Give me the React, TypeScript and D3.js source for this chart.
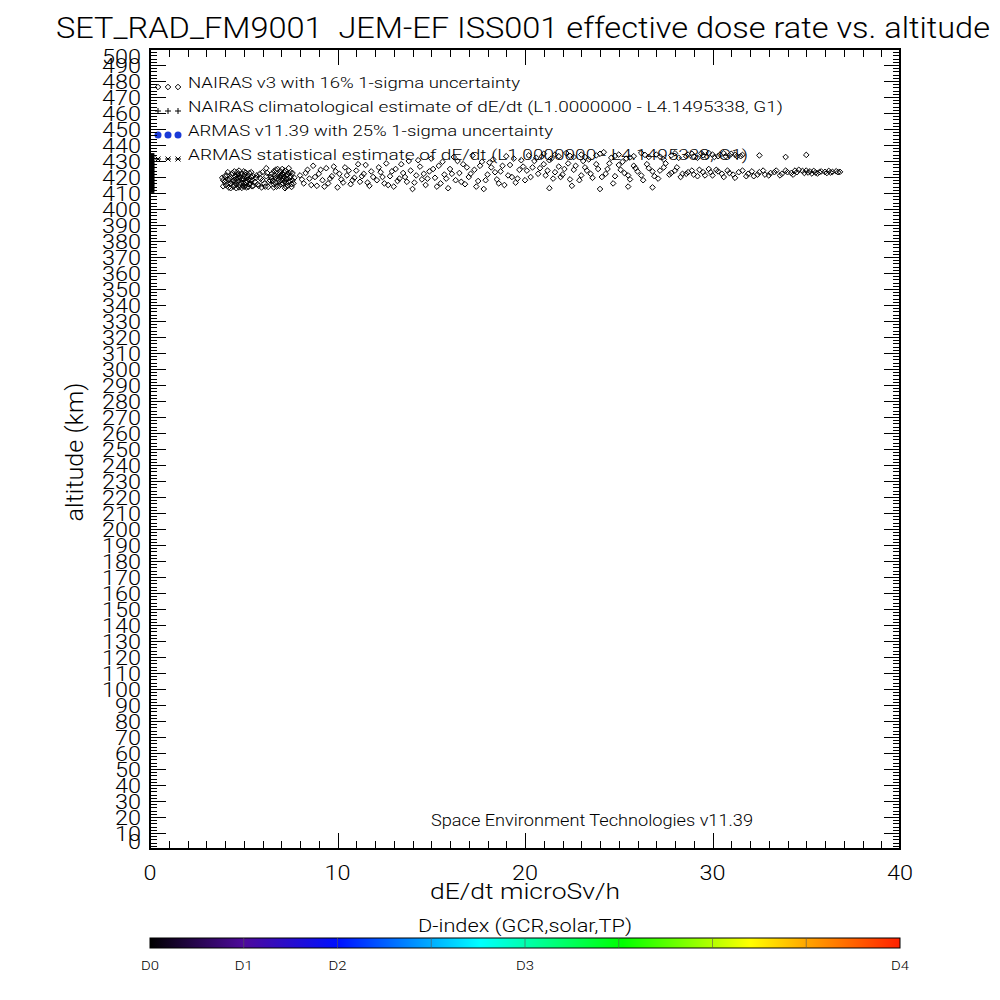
import React from "react";
import * as d3 from "d3";

const titleText = "SET_RAD_FM9001  JEM-EF ISS001 effective dose rate vs. altitude";
const xLabel = "dE/dt microSv/h";
const yLabel = "altitude (km)";
const footerText = "Space Environment Technologies v11.39";
const colorbarTitle = "D-index (GCR,solar,TP)";

const xDomain: [number, number] = [0, 40];
const yDomain: [number, number] = [0, 500];
const xTickValues = [0, 10, 20, 30, 40];

const legendLabels = [
  "NAIRAS v3 with 16% 1-sigma uncertainty",
  "NAIRAS climatological estimate of dE/dt (L1.0000000 - L4.1495338, G1)",
  "ARMAS v11.39 with 25% 1-sigma uncertainty",
  "ARMAS statistical estimate of dE/dt (L1.0000000 - L4.1495338, G1)",
];
const legendSymbols = ["diamond", "plus", "dot", "asterisk"];
const legendWidths = [332, 595, 365, 560];

const dLabels = ["D0", "D1", "D2", "D3", "D4"];
const dLabelPos = [0, 0.125, 0.25, 0.5, 1];
const colorStopPos = [0, 0.125, 0.25, 0.44, 0.63, 0.8, 0.88, 1];
const colorStopCol = ["#000000", "#4e0a9c", "#0010ff", "#00ffff", "#00ff00", "#ffff00", "#ffa000", "#ff2000"];

// dose (microSv/h), altitude (km)
const nairasPoints: [number, number][] = [
  [3.85,419.5],[3.9,414.2],[4.0,417],[4.1,421],[4.2,413.5],[4.25,419],[4.3,416],[4.4,422.5],[4.45,414],[4.5,418],
  [4.55,420.5],[4.6,415.5],[4.65,423],[4.7,417.5],[4.75,413.5],[4.8,420],[4.85,416.5],[4.9,422],[4.95,414.5],[5.0,418.5],
  [5.05,421.5],[5.1,415],[5.15,419.5],[5.2,417],[5.25,413.8],[5.3,422.5],[5.35,416],[5.4,420],[5.45,418],[5.5,414.5],
  [4.6,419],[4.8,415],[5.0,423.5],[4.4,417.5],[5.2,420.8],[4.7,421.8],[5.1,416.8],
  [3.9,418],[4.0,420.5],[4.05,415],[4.15,423],[4.2,418.2],[4.3,413],[4.35,421.5],[4.5,415],[4.5,423.5],[4.6,413],
  [4.7,419.5],[4.75,424],[4.85,418.5],[4.9,413.2],[5.0,416],[5.0,420.8],[5.1,422.8],[5.15,413.5],[5.25,418.5],[5.3,415.5],
  [5.4,423],[5.45,414.2],[5.5,420.5],[4.3,419.8],[4.55,417],[4.95,419.2],[5.35,417.8],[4.15,416],[4.65,421],[5.05,414],
  [5.6,417],[5.7,421],[5.8,414.5],[5.9,419],[6.0,423],[6.1,416],[6.2,420.5],[6.3,413.8],[6.4,418],[6.5,422],
  [6.6,415.5],[6.7,419.5],[6.8,425],[6.9,417],
  [5.65,419.5],[5.75,415.5],[5.85,422],[6.0,418],[6.15,414],[6.25,422.5],[6.35,417],[6.45,420],[5.95,413.5],[6.2,425.5],
  [6.5,419],[6.6,423.5],[6.7,416.5],[6.8,420.5],[6.9,414.5],[7.0,418],[7.05,422],[7.1,416],[7.15,420],[7.2,424],
  [7.25,414],[7.3,418.5],[7.35,421.5],[7.4,416.8],[7.45,419.8],[7.5,423],[7.55,415.5],[7.6,418],[7.0,420.8],[7.2,417.5],
  [7.4,422.5],[6.9,421.8],
  [6.55,417.5],[6.65,421],[6.75,414],[6.85,418.5],[6.95,423.5],[7.0,415.5],[7.1,419],[7.15,423],[7.25,416.5],[7.3,421],
  [7.35,414.5],[7.45,417.8],[7.5,420.5],[7.6,422.5],[7.65,416],[7.7,419.5],[6.7,424.5],[7.05,425],[7.4,425.5],[6.6,413.5],
  [7.2,413],[7.55,413.8],[6.95,420],[7.25,418.8],[7.1,421.5],
  [8.0,421],[8.2,416],[8.4,424.5],[8.5,419],[8.7,427],[8.9,414.5],[9.0,422],[9.2,418],[9.4,425.5],[9.5,416],
  [9.7,420.5],[9.9,423.5],[10.0,413.5],[10.2,418.5],[10.4,426],[10.5,421],[10.7,415.5],[10.9,419.5],[11.0,424],[11.2,417],
  [11.4,422],[11.5,427.5],[11.7,414.5],[11.9,420],
  [8.1,418.5],[8.3,422.5],[8.6,415],[8.8,420],[9.1,424.5],[9.3,414],[9.6,419],[9.8,426.5],[10.1,422],[10.3,416.5],
  [10.6,424],[10.8,418],[11.1,428],[11.3,420.5],[11.6,416.5],[11.8,423.5],
  [12.1,418],[12.3,423],[12.5,416],[12.6,428.5],[12.8,420.5],[13.0,414],[13.1,425],[13.3,419],[13.5,422.5],[13.7,417],
  [13.8,430],[14.0,412.5],[14.2,421],[14.4,426.5],[14.5,418.5],[14.7,415],[14.9,423.5],[15.0,431.5],[15.2,419.5],[15.4,427],
  [15.5,416],[15.7,421.5],[15.9,413],[16.0,425],[16.2,432.5],[16.3,418],[16.5,422.5],[16.7,428],[16.8,415.5],[17.0,420],
  [17.2,433.5],[17.3,424.5],[17.5,417.5],[17.7,429.5],[17.8,412.5],[18.0,421.5],[18.2,426],[18.3,431],[18.5,418.5],[18.7,423.5],
  [18.9,415],[19.0,433],[19.2,427.5],[19.3,420],[19.5,416.5],[19.7,424.5],[19.8,430.5],[20.0,418],
  [12.2,426],[12.4,420],[12.7,415],[12.9,423.5],[13.2,417.5],[13.4,428],[13.6,420],[13.9,424],[14.1,416.5],[14.3,430.5],
  [14.6,422],[14.8,419],[15.1,425],[15.3,414],[15.6,429.5],[15.8,419],[16.1,422],[16.4,430],[16.6,417],[16.9,426],
  [17.1,422],[17.4,414],[17.6,427],[17.9,418],[18.1,429],[18.4,423],[18.6,416],[18.8,427],[19.1,421],[19.4,431.5],
  [19.6,419],[19.9,426.5],
  [20.2,433.5],[20.6,432],[21.0,434.5],[21.4,431.5],[21.8,433],[22.2,435],[22.6,432.5],[23.0,434],[23.4,431],[23.8,433.5],
  [24.2,435.5],[24.6,432],[25.0,434],[25.4,431.5],[25.8,433],[26.2,435],[26.6,432.5],[27.0,434],[27.4,431],[27.8,433.5],[28.2,432],
  [20.9,432.8],[21.6,434],[22.4,433.2],[23.2,432.5],[24.0,434.5],[24.8,433.2],[25.6,432.2],[26.4,433.8],[27.2,432.8],[28.0,434.8],
  [20.4,426],[20.7,422],[21.0,428],[21.2,424],[21.5,419],[21.8,426.5],[22.0,421.5],[22.3,428.5],[22.6,424.5],[22.9,418],
  [23.2,426],[23.5,422],[23.8,428],[24.1,420],[24.4,425],[24.7,416],[25.0,427.5],[25.3,422.5],[25.6,418.5],[25.9,425.5],
  [26.2,421],[26.5,428],[26.8,423.5],[27.1,419],[27.4,426],[27.7,421.5],[28.0,424],[28.3,420],
  [20.1,424],[20.3,420],[20.5,430],[20.8,425.5],[21.1,421],[21.3,430.5],[21.6,423],[21.9,420],[22.1,425],[22.4,418.5],
  [22.7,427],[23.0,421],[23.1,430],[23.3,424],[23.6,419.5],[23.9,425],[24.3,422],[24.5,428.5],[24.8,420.5],[25.1,424.5],
  [25.2,429.5],[25.5,421],[25.8,427],[26.0,423.5],[26.3,418],[26.6,425.5],[26.9,420.5],[27.2,424],[27.5,428.5],[27.8,422.5],
  [28.1,426],[28.4,422],
  [21.3,413],[22.5,414.5],[24.0,412.5],[25.5,414],[26.8,413.5],
  [28.6,433],[28.9,434.5],[29.2,432],[29.5,433.5],[29.8,435],[30.1,432.5],[30.4,434],[30.7,433],[31.0,434.5],[31.3,433],
  [31.6,433.8],[32.5,433.5],[33.9,432.5],[35.0,433.8],
  [28.7,434],[29.0,432.8],[29.4,434.8],[29.7,432.8],[30.0,434],[30.3,433],[30.6,434.8],[30.9,433.5],[31.2,434],[31.5,433],
  [28.6,422],[28.9,424],[29.2,420.5],[29.5,423],[29.8,425],[30.0,421],[30.3,423.5],[30.6,420],[30.9,422.5],[31.2,419.5],
  [31.6,424],[31.9,422],[32.2,420.5],[32.5,423],[32.8,421.5],[33.1,422.5],[33.4,424],[33.7,422],[34.0,423],[34.3,421.5],
  [34.6,424.5],[34.9,422.5],[35.2,423.5],[35.5,422.8],[35.8,423.5],[36.1,422.5],[36.4,423.2],[36.7,423],[35.0,424],[35.6,422.2],
  [36.2,423.8],
  [28.7,423],[29.0,421.5],[29.3,424.5],[29.6,421],[29.9,423],[30.2,424.5],[30.5,422],[30.8,424],[31.1,421.5],[31.4,423],
  [31.8,420.5],[32.1,423.5],[32.4,421.5],[32.7,424],[33.0,421],[33.3,423],[33.6,421],[33.9,424],[34.2,422.5],[34.5,423],
  [34.8,423.8],[35.1,422.8],[35.4,423.8],[35.7,423],[36.0,423.2],[36.3,422.8],[36.6,423.6],[36.8,423.2],[34.4,424],[35.3,422.2],
];

// near-zero dose estimates stacked along the axis
const zeroDose = 0.1;
const zeroDoseAlts = [411,412,413,414,415,416,417,418,419,420,421,422,423,424,425,426,427,428,429,430,431,432,433,434];

const FONT = "Roboto, 'DejaVu Sans', sans-serif";

export default function App() {
  const left = 150, right = 900, top = 49, bottom = 849;
  const x = d3.scaleLinear().domain(xDomain).range([left, right]);
  const y = d3.scaleLinear().domain(yDomain).range([bottom, top]);

  const yMinor = d3.range(0, 501, 2);
  const xMinor = d3.range(0, 41, 1);
  const yLabels = d3.range(0, 501, 10);

  const diamond = (cx: number, cy: number, r: number) =>
    `M${cx},${cy - r}L${cx + r},${cy}L${cx},${cy + r}L${cx - r},${cy}Z`;

  const cb = d3.scaleLinear().domain([0, 1]).range([left, right]);

  const legendSymbol = (kind: string, cx: number, cy: number, key: string) => {
    if (kind === "diamond")
      return <path key={key} d={diamond(cx, cy, 2.8)} fill="none" stroke="#000" strokeWidth={1} />;
    if (kind === "plus")
      return (
        <g key={key} stroke="#000" strokeWidth={1}>
          <line x1={cx - 3} x2={cx + 3} y1={cy} y2={cy} />
          <line x1={cx} x2={cx} y1={cy - 3} y2={cy + 3} />
        </g>
      );
    if (kind === "dot") return <circle key={key} cx={cx} cy={cy} r={3.5} fill="#1a3ad8" />;
    return (
      <g key={key} stroke="#000" strokeWidth={1}>
        <line x1={cx - 3} x2={cx + 3} y1={cy} y2={cy} />
        <line x1={cx - 2.5} x2={cx + 2.5} y1={cy - 2.5} y2={cy + 2.5} />
        <line x1={cx - 2.5} x2={cx + 2.5} y1={cy + 2.5} y2={cy - 2.5} />
      </g>
    );
  };

  return (
    <div style={{ position: "absolute", left: 0, top: 0 }}>
      <svg width={1000} height={1000} style={{ display: "block", background: "#fff" }} fontFamily={FONT} fontWeight={300}>
        <rect x={0} y={0} width={1000} height={1000} fill="#fff" />
        <defs>
          <linearGradient id="dgrad" x1="0" x2="1" y1="0" y2="0">
            {colorStopPos.map((p, i) => (
              <stop key={i} offset={p} stopColor={colorStopCol[i]} />
            ))}
          </linearGradient>
        </defs>

        {/* title */}
        <text x={56} y={38} fontSize={30} textLength={934} lengthAdjust="spacingAndGlyphs" style={{ whiteSpace: "pre" }}>
          {titleText}
        </text>

        {/* data */}
        {nairasPoints.map((p, i) => (
          <path key={"n" + i} d={diamond(x(p[0]), y(p[1]), 2.8)} fill="none" stroke="#000" strokeWidth={1} />
        ))}
        {zeroDoseAlts.map((a, i) => (
          <rect key={"z" + i} x={x(zeroDose) - 1.5} y={y(a) - 1.5} width={4} height={3} fill="#000" />
        ))}

        {/* legend */}
        {legendLabels.map((lab, i) => {
          const ty = 88 + i * 24;
          return (
            <g key={"lg" + i}>
              {[158, 168, 178].map((sx, j) => legendSymbol(legendSymbols[i], sx, ty - 1, `s${i}${j}`))}
              <text x={188} y={ty} fontSize={15.5} textLength={legendWidths[i]} lengthAdjust="spacingAndGlyphs">
                {lab}
              </text>
            </g>
          );
        })}

        {/* axes frame */}
        <rect x={left} y={top} width={right - left} height={bottom - top} fill="none" stroke="#000" strokeWidth={2} />

        {/* y ticks */}
        {yMinor.map((v) => {
          const len = v % 10 === 0 ? 16 : 7;
          const yy = Math.round(y(v)) + 0.5;
          return (
            <g key={"yt" + v} stroke="#000" strokeWidth={1}>
              <line x1={left} x2={left + len} y1={yy} y2={yy} />
              <line x1={right} x2={right - len} y1={yy} y2={yy} />
            </g>
          );
        })}
        {/* x ticks */}
        {xMinor.map((v) => {
          const len = v % 10 === 0 ? 16 : 8;
          const xx = Math.round(x(v)) + 0.5;
          return (
            <g key={"xt" + v} stroke="#000" strokeWidth={1}>
              <line x1={xx} x2={xx} y1={bottom} y2={bottom - len} />
              <line x1={xx} x2={xx} y1={top} y2={top + len} />
            </g>
          );
        })}

        {/* y tick labels */}
        {yLabels.map((v) => {
          const c = Math.min(Math.max(y(v), top + 7), bottom - 8);
          const s = String(v);
          return (
            <text key={"yl" + v} x={141} y={c + 7.5} fontSize={21} textAnchor="end" textLength={13 * s.length} lengthAdjust="spacingAndGlyphs">
              {s}
            </text>
          );
        })}
        {/* x tick labels */}
        {xTickValues.map((v) => {
          const s = String(v);
          return (
            <text key={"xl" + v} x={x(v)} y={880} fontSize={21} textAnchor="middle" textLength={13 * s.length} lengthAdjust="spacingAndGlyphs">
              {s}
            </text>
          );
        })}

        {/* axis labels */}
        <text x={525} y={899} fontSize={22} textAnchor="middle" textLength={190} lengthAdjust="spacingAndGlyphs">
          {xLabel}
        </text>
        <text transform="translate(83,452) rotate(-90)" fontSize={24} textAnchor="middle" textLength={139} lengthAdjust="spacingAndGlyphs">
          {yLabel}
        </text>

        {/* footer */}
        <text x={431} y={826} fontSize={17} textLength={322} lengthAdjust="spacingAndGlyphs">
          {footerText}
        </text>

        {/* colorbar */}
        <text x={525} y={932} fontSize={18} textAnchor="middle" textLength={214} lengthAdjust="spacingAndGlyphs">
          {colorbarTitle}
        </text>
        <rect x={cb(0)} y={938} width={cb(1) - cb(0)} height={10} fill="url(#dgrad)" stroke="#000" strokeWidth={1} />
        {d3.range(1, 8).map((k) => (
          <line key={"cd" + k} x1={cb(k / 8)} x2={cb(k / 8)} y1={938} y2={948} stroke="#555" strokeWidth={0.6} />
        ))}
        {dLabels.map((d, i) => (
          <text key={d} x={cb(dLabelPos[i])} y={970} fontSize={13} textAnchor="middle" textLength={18} lengthAdjust="spacingAndGlyphs">
            {d}
          </text>
        ))}
      </svg>
    </div>
  );
}
